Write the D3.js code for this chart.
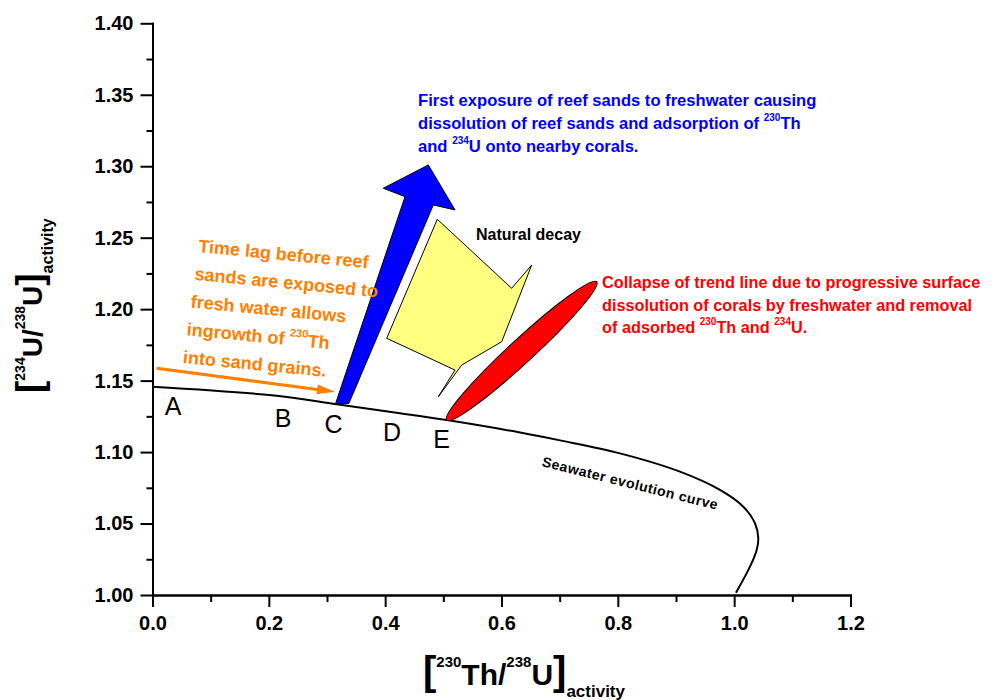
<!DOCTYPE html>
<html>
<head>
<meta charset="utf-8">
<script src="https://cdn.jsdelivr.net/npm/d3@7"></script>
<style>
  body { margin: 0; background: #fff; }
  svg { display: block; font-family: "Liberation Sans", Arial, Helvetica, sans-serif; }
</style>
</head>
<body>
<svg id="chart" width="995" height="700"></svg>
<script>
// Seawater evolution curve: [230Th/238U] vs [234U/238U] activity ratios
const seawaterTh = [0.000, 0.2135, 0.3167, 0.4255, 0.5058, 0.632, 0.7006, 0.8037, 0.9069, 0.9756, 1.0157, 1.0358, 1.0415, 1.0387, 1.0272, 1.0031];
const seawaterU  = [1.1457, 1.1394, 1.1334, 1.1272, 1.1224, 1.1137, 1.1082, 1.0991, 1.0863, 1.0735, 1.0618, 1.0502, 1.0397, 1.0315, 1.0198, 1.0016];

// Axis ticks
const xTicks = [0.0, 0.2, 0.4, 0.6, 0.8, 1.0, 1.2];
const xMinorTicks = [0.1, 0.3, 0.5, 0.7, 0.9, 1.1];
const yTicks = [1.00, 1.05, 1.10, 1.15, 1.20, 1.25, 1.30, 1.35, 1.40];
const yMinorTicks = [1.025, 1.075, 1.125, 1.175, 1.225, 1.275, 1.325, 1.375];

// Stage labels along the curve
const stageNames = ["A", "B", "C", "D", "E"];
const stageTh = [0.0352, 0.2244, 0.3111, 0.4118, 0.4969];
const stageU  = [1.1259, 1.1175, 1.1133, 1.1077, 1.1028];

// Blue arrow (freshwater exposure), vertices in data units
const blueArrowTh = [0.3143, 0.3375, 0.4828, 0.5201, 0.4742, 0.3968, 0.4341];
const blueArrowU  = [1.1334, 1.1340, 1.2729, 1.2694, 1.3009, 1.2846, 1.2787];

// Yellow callout (natural decay), vertices in data units
const decayTh = [0.4896, 0.6175, 0.6519, 0.6003, 0.5316, 0.4913, 0.5201, 0.4026];
const decayU  = [1.2629, 1.2146, 1.2309, 1.1772, 1.1609, 1.1387, 1.1574, 1.1796];

// Red ellipse (trend collapse), end points in data units
const collapseTh = [0.5058, 0.7637];
const collapseU  = [1.1224, 1.2192];

// Orange arrow (time lag), tail and tip in data units
const lagTh = [0.0072, 0.3137];
const lagU  = [1.1586, 1.1422];

const svg = d3.select("#chart");
const x = d3.scaleLinear().domain([0, 1.2]).range([152.5, 850.5]);
const y = d3.scaleLinear().domain([1.0, 1.4]).range([595, 23.3]);

// ---- axes ----
function styleAxis(g) {
  g.select(".domain").attr("stroke", "#000").attr("stroke-width", 2).attr("stroke-linecap", "square");
  g.selectAll(".tick line").attr("stroke", "#000").attr("stroke-width", 2);
  g.selectAll(".tick text").attr("fill", "#000").attr("font-size", 20).attr("font-weight", "bold")
    .attr("font-family", "'Liberation Sans', Arial, sans-serif");
}
svg.append("g").attr("transform", "translate(0,595)")
  .call(d3.axisBottom(x).tickValues(xMinorTicks).tickSize(7).tickFormat("").tickSizeOuter(0))
  .call(styleAxis);
svg.append("g").attr("transform", "translate(0,595)")
  .call(d3.axisBottom(x).tickValues(xTicks).tickFormat(d3.format(".1f")).tickSize(12).tickPadding(9).tickSizeOuter(0))
  .call(styleAxis);
svg.append("g").attr("transform", "translate(152.5,0)")
  .call(d3.axisLeft(y).tickValues(yMinorTicks).tickSize(6).tickFormat("").tickSizeOuter(0))
  .call(styleAxis);
svg.append("g").attr("transform", "translate(152.5,0)")
  .call(d3.axisLeft(y).tickValues(yTicks).tickFormat(d3.format(".2f")).tickSize(12).tickPadding(7).tickSizeOuter(0))
  .call(styleAxis);

// ---- rich text helper: segments are [text] or [text, "sup"] / [text, "sub"] / [text, "big"] ----
function richText(parent, segs, opts) {
  const t = parent.append("text")
    .attr("x", opts.x).attr("y", opts.y)
    .attr("fill", opts.fill || "#000")
    .attr("font-weight", "bold")
    .attr("font-size", opts.size);
  if (opts.transform) t.attr("transform", opts.transform);
  let shift = 0;
  segs.forEach(s => {
    const kind = s[1];
    let target = 0;
    let size = opts.size;
    if (kind === "sup") { target = -opts.supShift; size = opts.supSize; }
    else if (kind === "sub") { target = opts.subShift; size = opts.subSize; }
    else if (kind === "big") { size = opts.bigSize; }
    const ts = t.append("tspan").text(s[0]).attr("font-size", size);
    if (target !== shift) { ts.attr("dy", target - shift); shift = target; }
  });
  return t;
}

// ---- axis titles ----
richText(svg, [["[", "big"], ["230", "sup"], ["Th/"], ["238", "sup"], ["U"], ["]", "big"], ["activity", "sub"]],
  { x: 423, y: 685, size: 30, bigSize: 40, supSize: 15, supShift: 18, subSize: 17, subShift: 12 });
richText(svg, [["[", "big"], ["234", "sup"], ["U/"], ["238", "sup"], ["U"], ["]", "big"], ["activity", "sub"]],
  { x: 0, y: 0, size: 28, bigSize: 37, supSize: 14, supShift: 17, subSize: 16, subShift: 11,
    transform: "translate(42,393) rotate(-90)" });

// ---- seawater evolution curve ----
const curvePts = seawaterTh.map((d, i) => [x(d), y(seawaterU[i])]);
svg.append("path")
  .attr("d", d3.line().curve(d3.curveCatmullRom.alpha(0.5))(curvePts))
  .attr("fill", "none").attr("stroke", "#000").attr("stroke-width", 2);

svg.append("text")
  .attr("transform", "translate(629,488) rotate(14)")
  .attr("text-anchor", "middle")
  .attr("font-size", 14).attr("font-weight", "bold").attr("letter-spacing", 0.5)
  .text("Seawater evolution curve");

// ---- stage letters ----
svg.append("g").selectAll("text").data(stageNames).join("text")
  .attr("x", (d, i) => x(stageTh[i])).attr("y", (d, i) => y(stageU[i]))
  .attr("text-anchor", "middle").attr("font-size", 25)
  .text(d => d);

// ---- yellow natural-decay callout ----
svg.append("polygon")
  .attr("points", decayTh.map((d, i) => [x(d), y(decayU[i])].join(",")).join(" "))
  .attr("fill", "#ffff80").attr("stroke", "#000").attr("stroke-width", 1).attr("stroke-linejoin", "miter");
svg.append("text").attr("x", 476).attr("y", 240)
  .attr("font-size", 16).attr("font-weight", "bold").text("Natural decay");

// ---- red ellipse ----
{
  const x0 = x(collapseTh[0]), y0 = y(collapseU[0]);
  const x1 = x(collapseTh[1]), y1 = y(collapseU[1]);
  const cx = (x0 + x1) / 2, cy = (y0 + y1) / 2;
  const len = Math.hypot(x1 - x0, y1 - y0);
  const ang = Math.atan2(y1 - y0, x1 - x0) * 180 / Math.PI;
  svg.append("ellipse")
    .attr("transform", `translate(${cx},${cy}) rotate(${ang})`)
    .attr("rx", len / 2).attr("ry", 12)
    .attr("fill", "#ff0000").attr("stroke", "#000").attr("stroke-width", 1);
}

// ---- blue arrow ----
svg.append("polygon")
  .attr("points", blueArrowTh.map((d, i) => [x(d), y(blueArrowU[i])].join(",")).join(" "))
  .attr("fill", "#0000ff").attr("stroke", "#000").attr("stroke-width", 1).attr("stroke-linejoin", "miter");

// ---- orange time-lag arrow ----
{
  const ax = x(lagTh[0]), ay = y(lagU[0]);
  const bx = x(lagTh[1]), by = y(lagU[1]);
  const a = Math.atan2(by - ay, bx - ax);
  const headLen = 18, headHalf = 5;
  const baseX = bx - headLen * Math.cos(a), baseY = by - headLen * Math.sin(a);
  svg.append("line")
    .attr("x1", ax).attr("y1", ay).attr("x2", baseX + 2 * Math.cos(a)).attr("y2", baseY + 2 * Math.sin(a))
    .attr("stroke", "#ff8000").attr("stroke-width", 3);
  svg.append("polygon")
    .attr("points", [
      [bx, by],
      [baseX - headHalf * Math.sin(a), baseY + headHalf * Math.cos(a)],
      [baseX + headHalf * Math.sin(a), baseY - headHalf * Math.cos(a)]
    ].map(p => p.join(",")).join(" "))
    .attr("fill", "#ff8000");
}

// ---- annotation text blocks ----
const orangeLines = [
  [["Time lag before reef"]],
  [["sands are exposed to"]],
  [["fresh water allows"]],
  [["ingrowth of "], ["230", "sup"], ["Th"]],
  [["into sand grains."]]
];
const orangeG = svg.append("g").attr("transform", "translate(198,252) rotate(5.5)");
orangeLines.forEach((segs, i) => {
  richText(orangeG, segs, { x: -i * 1.2, y: i * 28, size: 18, supSize: 11, supShift: 9, fill: "#ff8000" });
});

const blueLines = [
  [["First exposure of reef sands to freshwater causing"]],
  [["dissolution of reef sands and adsorption of "], ["230", "sup"], ["Th"]],
  [["and "], ["234", "sup"], ["U onto nearby corals."]]
];
blueLines.forEach((segs, i) => {
  richText(svg, segs, { x: 418, y: 106 + i * 22.8, size: 16.6, supSize: 10, supShift: 8, fill: "#0000ff" });
});

const redLines = [
  [["Collapse of trend line due to progressive surface"]],
  [["dissolution of corals by freshwater and removal"]],
  [["of adsorbed "], ["230", "sup"], ["Th and "], ["234", "sup"], ["U."]]
];
redLines.forEach((segs, i) => {
  richText(svg, segs, { x: 602, y: 288 + i * 22.5, size: 16.3, supSize: 10, supShift: 8, fill: "#ff0000" });
});
</script>
</body>
</html>
